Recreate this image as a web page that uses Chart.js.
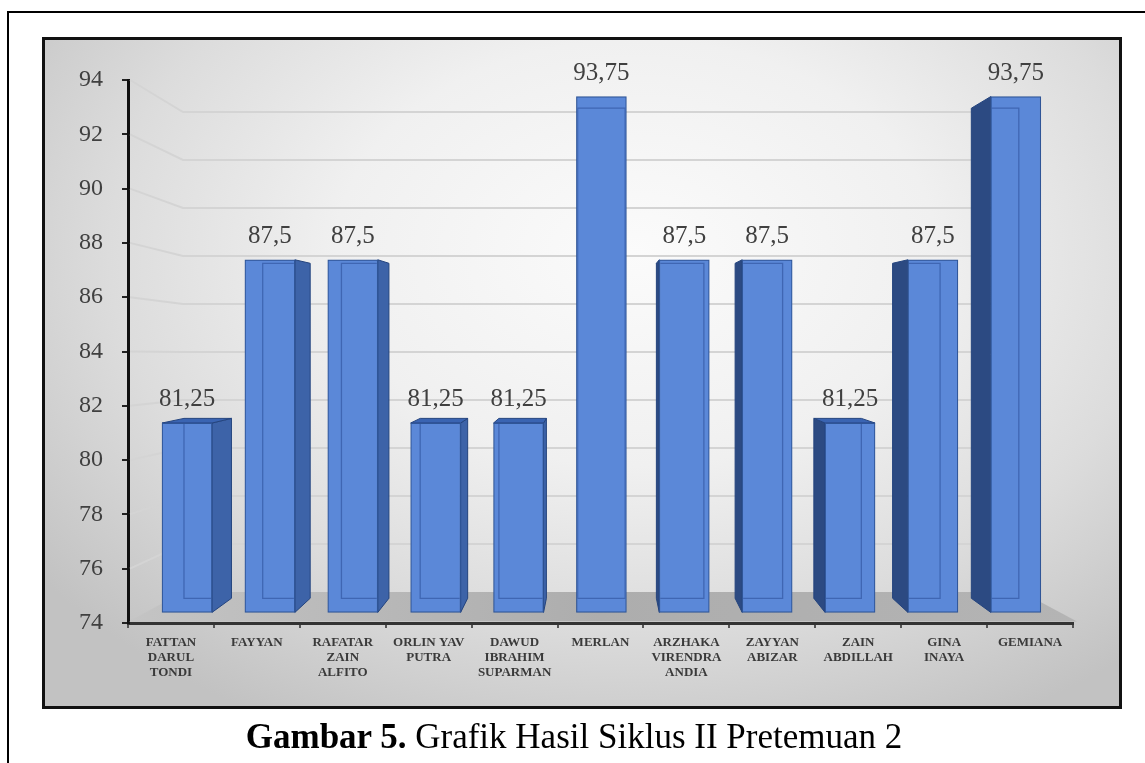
<!DOCTYPE html>
<html><head><meta charset="utf-8">
<script src="https://cdn.jsdelivr.net/npm/chart.js@4.4.1/dist/chart.umd.min.js"></script>
<style>
html,body{margin:0;padding:0;background:#fff;width:1145px;height:763px;overflow:hidden;}
#outer{position:absolute;left:7px;top:11px;width:1200px;height:800px;border-left:2px solid #000;border-top:2px solid #000;box-sizing:border-box;}
#panel{position:absolute;left:42px;top:37px;width:1080px;height:672px;border:3px solid #111;box-sizing:border-box;
  background:radial-gradient(ellipse 70% 80% at 55% 32%, #fbfbfb 0%, #f0f0f0 40%, #dcdcdc 70%, #c2c2c2 100%);}
#wrap{position:absolute;left:0;top:0;width:1145px;height:763px;}
#caption{position:absolute;left:0;width:1148px;top:719px;text-align:center;font-family:"Liberation Serif","Times New Roman",serif;font-size:35px;line-height:35px;color:#000;white-space:nowrap;}
</style></head>
<body>
<div id="outer"></div>
<div id="panel"></div>
<div id="wrap"><canvas id="c" width="1145" height="763"></canvas></div>
<div id="caption"><b>Gambar 5.</b> Grafik Hasil Siklus II Pretemuan 2</div>
<script>
// ---- data ----
const categories = [
  ['FATTAN','DARUL','TONDI'],
  ['FAYYAN'],
  ['RAFATAR','ZAIN','ALFITO'],
  ['ORLIN YAV','PUTRA'],
  ['DAWUD','IBRAHIM','SUPARMAN'],
  ['MERLAN'],
  ['ARZHAKA','VIRENDRA','ANDIA'],
  ['ZAYYAN','ABIZAR'],
  ['ZAIN','ABDILLAH'],
  ['GINA','INAYA'],
  ['GEMIANA']
];
const scores = [81.25, 87.5, 87.5, 81.25, 81.25, 93.75, 87.5, 87.5, 81.25, 87.5, 93.75];
const yAxisMin = 74;
const yAxisMax = 94;
const yAxisStep = 2;

// ---- perspective styling (3D look) ----
const BAR_VP = {x: 601, y: 330, k: 0.05};
const WALL_VP = {x: 602, y: 356, k: 0.116};

function fmt(v){ return String(v).replace('.', ','); }
function toward(vp, x, y, k){ return [x + (vp.x - x) * k, y + (vp.y - y) * k]; }
function poly(ctx, pts){ ctx.beginPath(); ctx.moveTo(pts[0][0], pts[0][1]); for (let i=1;i<pts.length;i++) ctx.lineTo(pts[i][0], pts[i][1]); ctx.closePath(); }

const scene3d = {
  id: 'scene3d',
  beforeDatasetsDraw(chart){
    const {ctx, chartArea: a, scales} = chart;
    const ys = scales.y;
    ctx.save();
    const rightEnd = toward(WALL_VP, a.right + 4, a.bottom, WALL_VP.k)[0];
    ctx.strokeStyle = '#d4d4d4';
    ctx.lineWidth = 2;
    ys.ticks.forEach(t => {
      if (t.value === ys.min) return;
      const fy = ys.getPixelForValue(t.value);
      const b = toward(WALL_VP, a.left, fy, WALL_VP.k);
      ctx.beginPath();
      ctx.moveTo(a.left + 2, fy);
      ctx.lineTo(b[0], b[1]);
      ctx.lineTo(rightEnd, b[1]);
      ctx.stroke();
    });
    const fyB = a.bottom - 1.5;
    const bl = toward(WALL_VP, a.left, a.bottom, WALL_VP.k);
    const br = toward(WALL_VP, a.right + 4, a.bottom, WALL_VP.k);
    const g = ctx.createLinearGradient(a.left, 0, a.right, 0);
    g.addColorStop(0, '#c4c4c4'); g.addColorStop(0.5, '#adadad'); g.addColorStop(1, '#b4b4b4');
    ctx.fillStyle = g;
    poly(ctx, [[a.left + 1, fyB], [a.right + 4, fyB], br, bl]);
    ctx.fill();
    const meta = chart.getDatasetMeta(0);
    meta.data.forEach(bar => {
      const p = bar.getProps(['x','y','base','width'], true);
      const L = p.x - p.width/2, R = p.x + p.width/2, T = p.y, B = p.base;
      ctx.lineWidth = 1;
      ctx.strokeStyle = '#24447e';
      if (p.x < BAR_VP.x - 8) {
        poly(ctx, [[R,T], toward(BAR_VP,R,T,BAR_VP.k), toward(BAR_VP,R,B,BAR_VP.k), [R,B]]);
        ctx.fillStyle = '#3d63a8'; ctx.fill(); ctx.stroke();
      } else if (p.x > BAR_VP.x + 8) {
        poly(ctx, [[L,T], toward(BAR_VP,L,T,BAR_VP.k), toward(BAR_VP,L,B,BAR_VP.k), [L,B]]);
        ctx.fillStyle = '#2c4a82'; ctx.fill(); ctx.stroke();
      }
      if (T > BAR_VP.y) {
        poly(ctx, [[L,T],[R,T], toward(BAR_VP,R,T,BAR_VP.k), toward(BAR_VP,L,T,BAR_VP.k)]);
        ctx.fillStyle = '#3a64b2'; ctx.fill(); ctx.stroke();
      }
    });
    ctx.restore();
  },
  afterDatasetsDraw(chart){
    const {ctx} = chart;
    const meta = chart.getDatasetMeta(0);
    ctx.save();
    meta.data.forEach((bar, i) => {
      const p = bar.getProps(['x','y','base','width'], true);
      const L = p.x - p.width/2, R = p.x + p.width/2, T = p.y, B = p.base;
      ctx.save();
      ctx.beginPath(); ctx.rect(L+1, T+1, R-L-2, B-T-2); ctx.clip();
      poly(ctx, [toward(BAR_VP,L,T,BAR_VP.k), toward(BAR_VP,R,T,BAR_VP.k), toward(BAR_VP,R,B,BAR_VP.k), toward(BAR_VP,L,B,BAR_VP.k)]);
      ctx.strokeStyle = 'rgba(40,75,150,0.55)';
      ctx.lineWidth = 1.3;
      ctx.stroke();
      ctx.restore();
      ctx.fillStyle = '#404040';
      ctx.font = '25px "Liberation Serif", "Times New Roman", serif';
      ctx.textAlign = 'center';
      ctx.textBaseline = 'alphabetic';
      ctx.fillText(fmt(scores[i]), p.x, T - 17);
    });
    ctx.restore();
  }
};

new Chart(document.getElementById('c'), {
  type: 'bar',
  data: {
    labels: categories,
    datasets: [{
      label: 'Nilai',
      data: scores.map((v, i) => ({x: i, y: v})),
      xAxisID: 'xb',
      yAxisID: 'yb',
      base: yAxisMin,
      barThickness: 50,
      backgroundColor: '#5b88d8',
      borderColor: '#2f5597',
      borderWidth: 1.2,
      borderSkipped: false
    }]
  },
  options: {
    responsive: false,
    animation: false,
    layout: {padding: {left: 0, top: 80, right: 72, bottom: 0}},
    plugins: {legend: {display: false}, tooltip: {enabled: false}},
    scales: {
      x: {
        type: 'category',
        position: 'bottom',
        offset: true,
        afterFit: s => { s.height = 140; },
        grid: {offset: true, drawOnChartArea: false, drawTicks: true, tickLength: 5, color: '#555', lineWidth: 2},
        border: {display: true, color: '#333', width: 3},
        ticks: {
          autoSkip: false, maxRotation: 0, minRotation: 0, padding: 7,
          color: '#3a3a3a',
          font: {family: '"Liberation Serif", "Times New Roman", serif', size: 13, weight: 'bold', lineHeight: 1.15}
        }
      },
      y: {
        type: 'linear',
        position: 'left',
        min: yAxisMin, max: yAxisMax,
        afterFit: s => { s.width = 128; },
        grid: {drawOnChartArea: false, drawTicks: true, tickLength: 6, color: '#222', lineWidth: 2},
        border: {display: true, color: '#111', width: 3},
        ticks: {
          stepSize: yAxisStep, padding: 19, color: '#404040',
          font: {family: '"Liberation Serif", "Times New Roman", serif', size: 24}
        }
      },
      xb: {type: 'linear', axis: 'x', position: 'bottom', display: false, offset: false, grid: {offset: false}, min: -0.712, max: 10.69},
      yb: {type: 'linear', axis: 'y', position: 'left', display: false, min: 73.594, max: 94.383}
    }
  },
  plugins: [scene3d]
});
</script>
</body></html>
